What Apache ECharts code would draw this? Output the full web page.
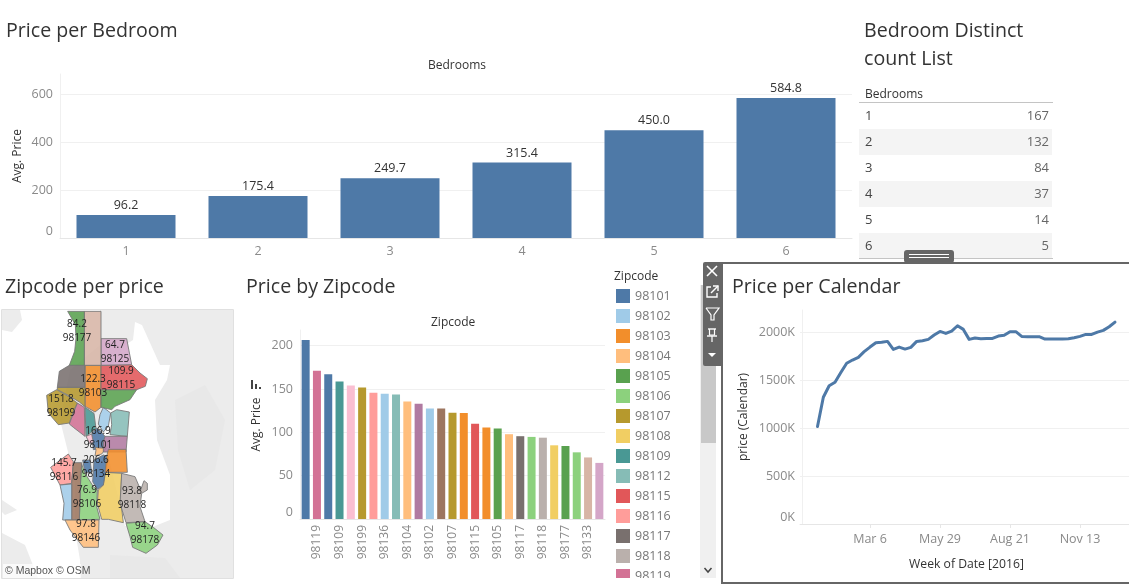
<!DOCTYPE html>
<html>
<head>
<meta charset="utf-8">
<style>html,body{margin:0;padding:0;background:#fff}#c{width:1129px;height:587px}</style>
<script src="https://cdn.jsdelivr.net/npm/echarts@6/dist/echarts.min.js"></script>
</head>
<body>
<div id="c"></div>
<script>
const FONT = '"Open Sans", sans-serif';
const bedrooms = ['1','2','3','4','5','6'];
const bedroomPrice = [96.2,175.4,249.7,315.4,450.0,584.8];
const bedroomCount = [167,132,84,37,14,5];
const zipcodes = ['98134','98119','98101','98109','98121','98199','98116','98136','98112','98104','98122','98102','98126','98107','98103','98115','98144','98105','98146','98117','98178','98118','98108','98177','98106','98133','98125'];
const zipPrice = [206.6,171,166.9,158.5,154,151.8,145.7,144.5,143.5,135.5,133,127.5,127.5,122.5,122.3,109.9,105.5,104.5,97.8,95.5,94.7,93.8,85,84.2,76.9,71,64.7];
const legendZips = ['98101','98102','98103','98104','98105','98106','98107','98108','98109','98112','98115','98116','98117','98118','98119'];
const zipColor = {98101:'#4e79a7',98102:'#a0cbe8',98103:'#f28e2b',98104:'#ffbe7d',98105:'#59a14f',98106:'#8cd17d',98107:'#b6992d',98108:'#f1ce63',98109:'#499894',98112:'#86bcb6',98115:'#e15759',98116:'#ff9d9a',98117:'#79706e',98118:'#bab0ac',98119:'#d37295',98121:'#fabfd2',98122:'#b07aa1',98125:'#d4a6c8',98126:'#9d7660',98133:'#d7b5a6',98134:'#4e79a7',98136:'#a0cbe8',98144:'#f28e2b',98146:'#ffbe7d',98177:'#59a14f',98178:'#8cd17d',98199:'#b6992d'};
// weeks counted from 13 Dec 2015
const weekIndex = [3,4,5,6,7,8,9,10,11,12,13,14,15,16,17,18,19,20,21,22,23,24,25,26,27,28,29,30,31,32,33,34,35,36,37,38,39,40,41,42,43,44,45,46,47,48,49,50,51,52,53,54];
const calendarPriceK = [1015,1320,1440,1476,1577,1674,1708,1736,1795,1843,1888,1892,1902,1819,1843,1822,1840,1902,1909,1923,1968,2006,1985,2010,2065,2027,1923,1937,1930,1933,1933,1958,1965,2003,2003,1954,1951,1951,1951,1926,1926,1926,1926,1930,1940,1954,1975,1975,1999,2017,2055,2103];
const weekTickLabels = {12:'Mar 6',24:'May 29',36:'Aug 21',48:'Nov 13'};

// map outlines: crop frames a (40,308) and b (40,440), 3x; p = page pixels
const a = pts => pts.map(p => [40+p[0]/3, -(308+p[1]/3)]);
const b = pts => pts.map(p => [40+p[0]/3, -(440+p[1]/3)]);
const p = pts => pts.map(q => [q[0], -q[1]]);
const baseShapes = [
 ['water','#ffffff',[p([[2,310],[233,310],[233,578],[2,578]])]],
 ['land','#ececec',[p([[100,310],[233,310],[233,578],[80,578],[80,560],[75,530],[75,480],[60,420],[70,370],[100,345]]),
   p([[2,310],[20,310],[22,320],[12,332],[2,330]]),
   p([[2,533],[25,545],[38,578],[2,578]]),
   p([[2,500],[17,510],[5,515],[2,512]])]],
 ['landDark','#e8e8e8',[p([[175,400],[205,385],[225,420],[215,470],[190,490],[178,450]]),p([[110,555],[165,558],[180,578],[110,578]])]],
 ['lake','#ffffff',[p([[135,322],[142,325],[160,365],[170,365],[167,380],[155,400],[157,440],[170,475],[170,520],[150,528],[125,526],[100,420],[110,370],[125,345],[133,340]])]]
];
const zipShapes = {
 98177:[a([[83,10],[133,10],[133,172],[88,172],[104,130],[108,90],[106,50]])],
 98133:[a([[133,10],[183,10],[183,172],[133,172]])],
 98125:[a([[183,92],[260,92],[275,170],[183,172]])],
 98115:[a([[183,172],[275,170],[300,195],[322,212],[316,235],[290,245],[183,245]])],
 98117:[a([[88,172],[135,172],[135,238],[52,238],[58,190]])],
 98107:[a([[52,238],[135,238],[135,296],[118,282],[85,262],[52,245]])],
 98103:[a([[135,172],[183,172],[183,298],[165,312],[135,295]])],
 98105:[a([[183,245],[290,245],[270,275],[225,295],[215,305],[183,298]])],
 98199:[a([[20,262],[50,245],[85,265],[112,285],[100,310],[88,345],[55,350],[25,315]])],
 98119:[a([[112,285],[133,298],[135,385],[100,358],[88,348]])],
 98109:[a([[135,298],[162,316],[168,362],[138,385]])],
 98102:[a([[190,298],[212,315],[205,355],[190,372],[175,348],[180,320]])],
 98112:[a([[212,315],[230,305],[268,312],[262,385],[210,380],[215,350]])],
 98121:[a([[138,385],[155,378],[160,402],[150,408]])],
 98101:[a([[155,378],[170,360],[182,370],[195,385],[190,402],[190,420],[160,425]])],
 98122:[a([[195,385],[262,385],[258,432],[190,432],[190,402]])],
 98104:[b([[165,22],[198,25],[185,42],[165,48],[168,30]])],
 98144:[b([[205,28],[258,28],[262,97],[195,97],[200,50]])],
 98116:[b([[32,82],[85,42],[100,65],[95,130],[60,135]])],
 98126:[b([[95,130],[100,68],[125,68],[122,120],[118,240],[95,240]])],
 98136:[b([[60,135],[95,132],[95,240],[68,240],[72,190]])],
 98106:[b([[125,72],[135,100],[160,140],[172,150],[170,200],[180,238],[118,240],[122,120]])],
 98134:[b([[128,60],[150,60],[155,98],[135,98]]),b([[162,60],[190,45],[205,50],[190,135],[172,148],[158,125]])],
 98108:[b([[195,97],[245,100],[242,180],[250,248],[205,238],[185,238],[172,190],[175,150],[190,135]])],
 98118:[b([[245,100],[285,110],[302,150],[312,122],[322,130],[322,150],[305,160],[300,200],[315,245],[258,248],[240,190]])],
 98178:[b([[258,250],[315,245],[340,262],[369,285],[352,315],[318,340],[278,322],[270,290]])],
 98146:[b([[75,240],[177,240],[175,322],[130,322],[90,270]])]
};
const labelCentre = {98177:[77,331],98125:[115,352],98115:[121,378],98103:[93,386],98199:[61,406],98101:[98,438],98116:[64,470],98134:[96,467],98106:[87,497],98118:[132,498],98146:[86,531],98178:[145,533]};

const features = baseShapes.map(s => ({type:'Feature',properties:{name:s[0]},geometry:{type:'MultiPolygon',coordinates:s[2].map(r=>[r])}}));
Object.keys(zipShapes).forEach(z => {
  const props = {name:z};
  if (labelCentre[z]) props.cp = [labelCentre[z][0], -labelCentre[z][1]];
  features.push({type:'Feature',properties:props,geometry:{type:'MultiPolygon',coordinates:zipShapes[z].map(r=>[r])}});
});
echarts.registerMap('seattle',{type:'FeatureCollection',features});

const mapData = baseShapes.map(s => ({name:s[0],value:0,itemStyle:{areaColor:s[1],borderWidth:0,opacity:1},label:{show:false}}))
 .concat(Object.keys(zipShapes).map(z => ({
   name:z,value:zipPrice[zipcodes.indexOf(z)],
   itemStyle:{areaColor:zipColor[z],borderColor:'#777777',borderWidth:1,opacity:0.88},
   label:{show:!!labelCentre[z]}
 })));

const axisGrey='#e6e6e6', gridGrey='#f0f0f0', tickText='#8a8a8a', nameText='#333333';
const tick = {fontFamily:FONT,fontSize:12.5,color:tickText};
const yAxisCommon = (gridIndex,name,gap,interval,max,fmt,offset) => ({
  type:'value',gridIndex,min:0,max,interval,name,nameLocation:'middle',nameGap:gap,offset:offset||0,nameMoveOverlap:false,
  nameTextStyle:{fontFamily:FONT,fontSize:12,color:nameText},
  axisLine:{show:true,lineStyle:{color:gridGrey}},axisTick:{show:false},
  axisLabel:Object.assign({margin:7,showMaxLabel:false,verticalAlignMinLabel:'bottom',formatter:fmt},tick),
  splitLine:{show:true,showMinLine:false,showMaxLine:false,lineStyle:{color:gridGrey}}
});

const titleStyle = {fontFamily:FONT,fontSize:19.6,fontWeight:500,color:'#333333',lineHeight:28};
const mkTitle=(text,left,top,style)=>({text,left,top,padding:0,textStyle:Object.assign({},titleStyle,style||{})});
const smallT={fontSize:12,fontWeight:400,lineHeight:14};

// --- graphic furniture
const g=[];
const rect=(x,y,w,h,fill,z,r)=>g.push({type:'rect',z:z||50,silent:true,shape:{x,y,width:w,height:h,r:r||0},style:{fill}});
const text=(x,y,t,o)=>g.push({type:'text',z:(o&&o.z)||60,silent:true,x,y,style:Object.assign({text:t,fontFamily:FONT,fontSize:13,fill:'#555555',textAlign:'left',textVerticalAlign:'middle',verticalAlign:'middle'},o||{})});
const line=(pts,c,w,z)=>g.push({type:'polyline',z:z||70,silent:true,shape:{points:pts},style:{stroke:c,lineWidth:w||1,fill:null}});
// table
text(865,95,'Bedrooms',{fontSize:12,fill:'#333333'});
rect(859,102,194,1,'#c4c4c4');
bedrooms.forEach((b_,i)=>{
  if(i%2===1) rect(859,103+26*i,193,26,'#f4f4f4',40);
  text(865,116+26*i,b_,{fill:'#444444'});
  text(1049,116+26*i,String(bedroomCount[i]),{textAlign:'right',fill:'#666666'});
});
rect(859,258,194,1,'#c4c4c4');
// legend header + clip
text(614,277,'Zipcode',{fontSize:12,fill:'#333333'});
rect(610,578,92,9,'#ffffff',90);
// scrollbar
rect(700,285,16,293,'#f0f0f0',80);
rect(701,285,15,158,'#c8c8c8',81);
line([[704.5,568],[708,572],[711.5,568]],'#444444',1.5,82);
// selected panel
rect(722,262,407,2,'#666666',85);
rect(721,262,2,322,'#666666',85);
rect(721,582,408,2,'#666666',85);
rect(904,250,50,13,'#666666',86,3);
rect(909,254,40,1,'#ffffff',87);
rect(909,257,40,1,'#ffffff',87);
rect(703,262,20,104,'#666666',88,2);
line([[707,266],[717,276]],'#ffffff',1.6,89);line([[717,266],[707,276]],'#ffffff',1.6,89);
line([[711,287],[707,287],[707,297],[717,297],[717,293]],'#ffffff',1.4,89);line([[711,293],[718,286]],'#ffffff',1.4,89);line([[713,286],[718,286],[718,291]],'#ffffff',1.4,89);
line([[706,308],[719,308],[714,315],[714,320],[711,320],[711,315],[706,308]],'#ffffff',1.2,89);
line([[708,329],[716,329]],'#ffffff',1.4,89);line([[709.5,329],[709.5,335],[714.5,335],[714.5,329]],'#ffffff',1.2,89);line([[707,336],[717,336]],'#ffffff',1.4,89);line([[712,336],[712,342]],'#ffffff',1.2,89);
g.push({type:'polygon',z:89,silent:true,shape:{points:[[708,353],[716,353],[712,357]]},style:{fill:'#ffffff'}});
// sort icon
rect(251,380,2,9,'#444444',60);rect(255,384,2,5,'#444444',60);rect(259,387,2,2,'#444444',60);
// map frame + credit
g.push({type:'rect',z:30,silent:true,shape:{x:1.5,y:309.5,width:232,height:269},style:{fill:null,stroke:'#e0e0e0',lineWidth:1}});
rect(3,564,78,14,'rgba(255,255,255,0.75)',31);
text(5,571,'© Mapbox © OSM',{fontFamily:'"Liberation Sans",sans-serif',fontSize:10.5,fill:'#555555',z:32});

const option = {
  animation:false,
  textStyle:{fontFamily:FONT},
  title:[
    mkTitle('Price per Bedroom',6,17),
    mkTitle('Bedroom Distinct\ncount List',864,17),
    mkTitle('Zipcode per price',5,273),
    mkTitle('Price by Zipcode',246,273),
    mkTitle('Price per Calendar',732,273),
    mkTitle('Bedrooms',428,59,smallT),
    mkTitle('Zipcode',431,316,smallT)
  ],
  grid:[
    {left:60,top:74,width:792,height:164},
    {left:300,top:330,width:305,height:189},
    {left:800,top:310,width:329,height:214}
  ],
  xAxis:[
    {type:'category',gridIndex:0,data:bedrooms,axisLine:{lineStyle:{color:axisGrey}},axisTick:{length:4,lineStyle:{color:axisGrey}},axisLabel:Object.assign({margin:7},tick)},
    {type:'category',gridIndex:1,data:zipcodes,axisLine:{lineStyle:{color:axisGrey}},axisTick:{show:false},axisLabel:Object.assign({},tick,{fontSize:12,margin:6,rotate:90,interval:(i)=>i%2===1,hideOverlap:false})},
    {type:'value',gridIndex:2,min:0,max:56.4,interval:12,name:'Week of Date [2016]',nameLocation:'middle',nameGap:32,nameMoveOverlap:false,
      nameTextStyle:{fontFamily:FONT,fontSize:12.2,color:nameText,padding:[3,0,0,4]},
      axisLine:{lineStyle:{color:axisGrey}},axisTick:{show:true,length:4,lineStyle:{color:axisGrey}},splitLine:{show:false},
      axisLabel:Object.assign({margin:9,showMinLabel:false,showMaxLabel:false,formatter:v=>weekTickLabels[v]||''},tick)}
  ],
  yAxis:[
    yAxisCommon(0,'Avg. Price',36,200,685),
    yAxisCommon(1,'Avg. Price',37,50,218),
    yAxisCommon(2,'price (Calendar)',52,500,2229,v=>v+'K',-2)
  ],
  legend:{left:616,top:289,orient:'vertical',itemWidth:14,itemHeight:14,itemGap:6,icon:'rect',selectedMode:false,data:legendZips,
    textStyle:{fontFamily:FONT,fontSize:12.5,color:'#777777'},padding:0,z:4},
  series:[
    {type:'bar',xAxisIndex:0,yAxisIndex:0,data:bedroomPrice,barWidth:99,itemStyle:{color:'#4e79a7'},
      label:{show:true,position:'top',distance:3,formatter:q=>q.value.toFixed(1),fontFamily:FONT,fontSize:12.5,color:'#333333'}},
    ...zipcodes.map((z,i)=>({type:'bar',name:z,stack:'zip',xAxisIndex:1,yAxisIndex:1,barWidth:8,itemStyle:{color:zipColor[z]},
      data:zipPrice.map((v,j)=>j===i?v:null)})),
    {type:'line',xAxisIndex:2,yAxisIndex:2,data:weekIndex.map((w,i)=>[w,calendarPriceK[i]]),symbol:'none',
      lineStyle:{color:'#4e79a7',width:3,cap:'round',join:'round'},itemStyle:{color:'#4e79a7'}},
    {type:'map',map:'seattle',left:2,top:310,width:231,height:268,aspectScale:1,roam:false,silent:true,selectedMode:false,
      showLegendSymbol:false,emphasis:{disabled:true},data:mapData,
      label:{show:false,fontFamily:FONT,fontSize:10,color:'#222222',lineHeight:13.5,
        formatter:q=>q.value.toFixed(1)+'\n'+q.name}}
  ],
  graphic:{elements:g}
};
const chart=echarts.init(document.getElementById('c'),null,{renderer:'canvas'});
chart.setOption(option);
</script>
</body>
</html>
